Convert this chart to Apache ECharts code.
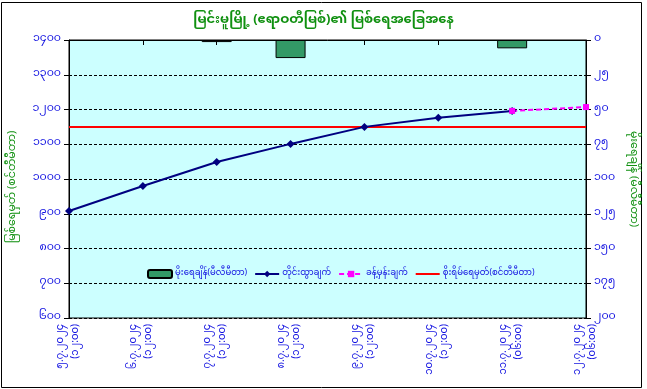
<!DOCTYPE html>
<html><head><meta charset="utf-8">
<script src="https://cdn.jsdelivr.net/npm/echarts@6/dist/echarts.min.js"></script>
<style>html,body{margin:0;padding:0;background:#fff;}#c{width:647px;height:389px;}</style>
</head><body><div id="c"></div>
<script>
const categories = ['၅.၇.၂၀၂၄\n(၁၂:၀၀)','၆.၇.၂၀၂၄\n(၁၂:၀၀)','၇.၇.၂၀၂၄\n(၁၂:၀၀)','၈.၇.၂၀၂၄\n(၁၂:၀၀)','၉.၇.၂၀၂၄\n(၁၂:၀၀)','၁၀.၇.၂၀၂၄\n(၁၂:၀၀)','၁၁.၇.၂၀၂၄\n(၀၆:၀၀)','၁၂.၇.၂၀၂၄\n(၀၆:၀၀)'];
const rainfall = [null, null, 1.5, 13, null, null, 6, null];
const measured = [908, 980, 1049, 1101, 1150, 1176, 1196, null];
const forecast = [null, null, null, null, null, null, 1196, 1207];
const danger = [1150, 1150, 1150, 1150, 1150, 1150, 1150, 1150];
const leftTickValues = [600, 700, 800, 900, 1000, 1100, 1200, 1300, 1400];
const leftTickLabels = ['၆၀၀','၇၀၀','၈၀၀','၉၀၀','၁၀၀၀','၁၁၀၀','၁၂၀၀','၁၃၀၀','၁၄၀၀'];
const rightTickValues = [0, 25, 50, 75, 100, 125, 150, 175, 200];
const rightTickLabels = ['၀','၂၅','၅၀','၇၅','၁၀၀','၁၂၅','၁၅၀','၁၇၅','၂၀၀'];
const seriesNames = ['မိုးရေချိန်(မီလီမီတာ)','တိုင်းထွာချက်','ခန့်မှန်းချက်','စိုးရိမ်ရေမှတ်(စင်တီမီတာ)'];
const titleText = 'မြင်းမူမြို့ (ဧရာဝတီမြစ်)၏ မြစ်ရေအခြေအနေ';
const leftTitle = 'မြစ်ရေမှတ် (စင်တီမီတာ)';
const rightTitle = 'မိုးရေချိန် (မီလီမီတာ)';

const FONT = '"Noto Sans Myanmar","Padauk","Myanmar Text","Noto Sans",sans-serif';
const BLUE = '#1010e0';
const GREEN = '#109010';
const chart = echarts.init(document.getElementById('c'), null, {renderer: 'canvas'});
chart.setOption({
  animation: false,
  textStyle: {fontFamily: FONT},
  title: {text: titleText, left: 'center', top: 10, textStyle: {color: GREEN, fontSize: 13, fontWeight: 'bold', fontFamily: FONT}},
  graphic: [{type: 'rect', shape: {x: 1.5, y: 2.5, width: 640, height: 385}, style: {fill: null, stroke: '#000', lineWidth: 1}, silent: true, z: -1}],
  legend: {
    left: 142, top: 264, itemWidth: 24, itemHeight: 8, itemGap: 7,
    textStyle: {color: BLUE, fontSize: 8.5, fontFamily: FONT, padding: [0, 0, 0, -2]},
    data: [
      {name: seriesNames[0]},
      {name: seriesNames[1]},
      {name: seriesNames[2]},
      {name: seriesNames[3], itemStyle: {opacity: 0}}
    ]
  },
  grid: {left: 68, right: 61, top: 40, bottom: 71, show: true, backgroundColor: '#CCFFFF', borderColor: '#000', borderWidth: 1},
  xAxis: {
    type: 'category', data: categories, boundaryGap: false,
    axisLine: {lineStyle: {color: '#000'}},
    axisTick: {show: true, length: 5, lineStyle: {color: '#000'}},
    axisLabel: {rotate: 90, color: BLUE, fontSize: 10, margin: 6, lineHeight: 15, interval: 0, fontFamily: FONT},
    splitLine: {show: false}
  },
  yAxis: [{
    type: 'value', min: 600, max: 1400, interval: 100, position: 'left',
    name: leftTitle, nameLocation: 'middle', nameRotate: 90, nameGap: 50,
    nameTextStyle: {color: GREEN, fontSize: 11, fontFamily: FONT, padding: [0, 16, 0, 0]},
    axisLine: {show: true, lineStyle: {color: '#000'}},
    axisTick: {show: true, length: 5, lineStyle: {color: '#000'}},
    axisLabel: {color: BLUE, fontSize: 11, margin: 8, fontFamily: FONT,
      formatter: v => leftTickLabels[leftTickValues.indexOf(v)]},
    splitLine: {show: true, lineStyle: {color: '#000', type: [3, 2], width: 1}}
  }, {
    type: 'value', min: 0, max: 200, interval: 25, position: 'right', inverse: true,
    name: rightTitle, nameLocation: 'middle', nameRotate: -90, nameGap: 38,
    nameTextStyle: {color: GREEN, fontSize: 11, fontFamily: FONT},
    axisLine: {show: true, lineStyle: {color: '#000'}},
    axisTick: {show: true, length: 5, lineStyle: {color: '#000'}},
    axisLabel: {color: BLUE, fontSize: 11, margin: 8, fontFamily: FONT,
      formatter: v => rightTickLabels[rightTickValues.indexOf(v)]},
    splitLine: {show: false}
  }],
  series: [{
    name: seriesNames[0], type: 'bar', yAxisIndex: 1, data: rainfall, barWidth: 30,
    itemStyle: {color: '#339966', borderColor: '#000', borderWidth: 1}
  }, {
    name: seriesNames[1], type: 'line', data: measured, symbol: 'diamond', symbolSize: 8,
    lineStyle: {color: '#000080', width: 2}, itemStyle: {color: '#000080'}, z: 4
  }, {
    name: seriesNames[2], type: 'line', data: forecast, symbol: 'rect', symbolSize: 6,
    lineStyle: {color: '#ff00ff', width: 2, type: [5, 3]}, itemStyle: {color: '#ff00ff'}, z: 4
  }, {
    name: seriesNames[3], type: 'line', data: danger, symbol: 'none',
    lineStyle: {color: '#ff0000', width: 2}, itemStyle: {color: '#ff0000'}, z: 3
  }]
});
</script></body></html>
